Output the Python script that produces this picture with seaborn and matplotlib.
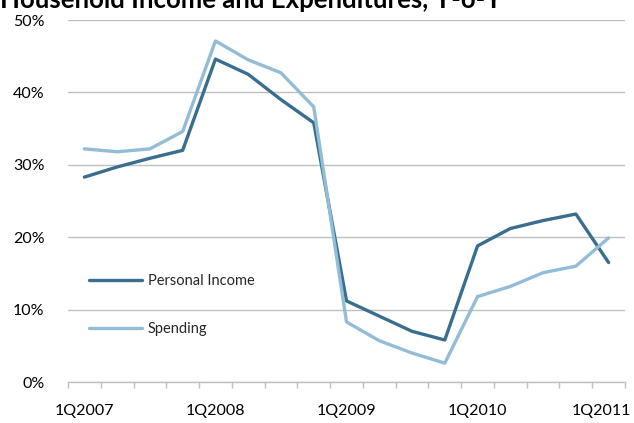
import matplotlib
matplotlib.use("Agg")
import matplotlib.pyplot as plt
import matplotlib.transforms as mtransforms
import seaborn as sns
import pandas as pd
from matplotlib.ticker import FixedLocator, FuncFormatter

quarters = [
    "1Q2007", "2Q2007", "3Q2007", "4Q2007",
    "1Q2008", "2Q2008", "3Q2008", "4Q2008",
    "1Q2009", "2Q2009", "3Q2009", "4Q2009",
    "1Q2010", "2Q2010", "3Q2010", "4Q2010",
    "1Q2011",
]
personal_income = [28.3, 29.7, 30.9, 32.0, 44.6, 42.5, 39.0, 35.8,
                   11.2, 9.1, 7.0, 5.8, 18.8, 21.2, 22.3, 23.2, 16.5]
spending = [32.2, 31.8, 32.2, 34.6, 47.1, 44.5, 42.7, 38.0,
            8.3, 5.7, 4.0, 2.6, 11.8, 13.2, 15.1, 16.0, 19.9]
series_names = ["Personal Income", "Spending"]
y_ticks = [0, 10, 20, 30, 40, 50]
x_labels = ["1Q2007", "1Q2008", "1Q2009", "1Q2010", "1Q2011"]

df = pd.DataFrame({
    "idx": list(range(len(quarters))) * 2,
    "quarter": quarters * 2,
    "value": personal_income + spending,
    "series": [series_names[0]] * len(quarters) + [series_names[1]] * len(quarters),
})

sns.set_theme(style="white")
plt.rcParams["font.family"] = ["Lato", "DejaVu Sans"]

fig = plt.figure(figsize=(6.34, 4.23), dpi=100)
ax = fig.add_axes([68 / 634, 1 - 382 / 423, (625 - 68) / 634, (382 - 20) / 423])

palette = {"Personal Income": "#3A6E8F", "Spending": "#93BCD6"}
sns.lineplot(data=df, x="idx", y="value", hue="series", palette=palette,
             linewidth=2.4, ax=ax, legend=True)

ax.set_xlim(-0.5, len(quarters) - 0.5)
ax.set_ylim(0, 50)

# gridlines
ax.set_yticks(y_ticks)
ax.yaxis.set_major_formatter(FuncFormatter(lambda v, p: f"{int(v)}%"))
ax.grid(axis="y", color="#BFBFBF", linewidth=1.0)
ax.grid(axis="x", visible=False)
ax.set_axisbelow(True)
ax.tick_params(axis="y", length=0, pad=17, labelsize=11.5, labelcolor="#000000")

# category axis: tick marks between categories, labels every fourth quarter
label_pos = [quarters.index(q) for q in x_labels]
ax.set_xticks(label_pos)
ax.set_xticklabels(x_labels)
ax.tick_params(axis="x", which="major", length=0, pad=16, labelsize=11.5,
               labelcolor="#000000")
ax.xaxis.set_minor_locator(FixedLocator([i - 0.5 for i in range(len(quarters) + 1)]))
ax.tick_params(axis="x", which="minor", length=4, color="#BFBFBF", width=1,
               direction="out", bottom=True)

# nudge the last category label so it stays inside the figure
last = ax.get_xticklabels()[-1]
last.set_transform(last.get_transform() +
                   mtransforms.ScaledTranslation(-7 / 100, 0, fig.dpi_scale_trans))

for s in ["top", "right", "left"]:
    ax.spines[s].set_visible(False)
ax.spines["bottom"].set_color("#BFBFBF")
ax.spines["bottom"].set_linewidth(1.0)

ax.set_xlabel("")
ax.set_ylabel("")

ax.legend(title=None, frameon=False, loc="upper left",
          bbox_to_anchor=(0.025, 0.318), fontsize=10.5, handlelength=3.6,
          handletextpad=0.4, labelspacing=2.3, borderpad=0)

fig.text(0.0, 1 - 8 / 423, "Household Income and Expenditures, Y-o-Y",
         fontsize=18.5, fontweight="bold", ha="left", va="baseline", color="#000000")

fig.savefig("out.png", dpi=100)
